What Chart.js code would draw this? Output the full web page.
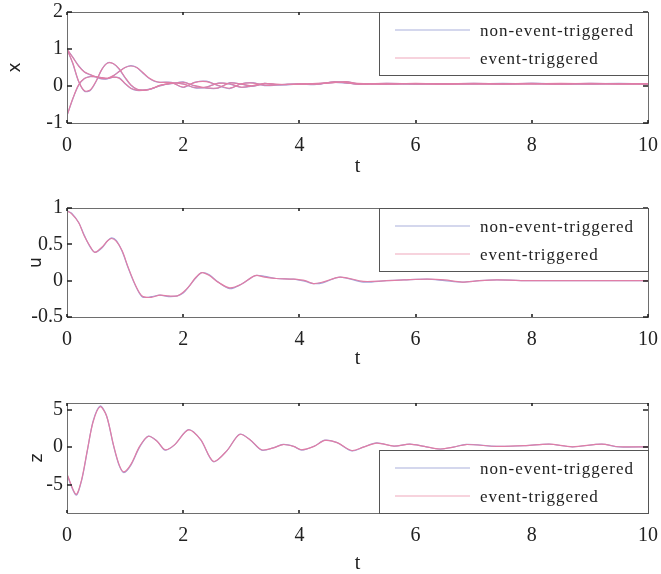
<!DOCTYPE html>
<html>
<head>
<meta charset="utf-8">
<script src="https://cdn.jsdelivr.net/npm/chart.js@4.4.1/dist/chart.umd.min.js"></script>
<style>
  html, body { margin: 0; padding: 0; background: #fff; }
  .plot { position: relative; width: 661px; }
  canvas { display: block; }
</style>
</head>
<body>
<div class="plot" style="height:190px"><canvas id="plotX"></canvas></div>
<div class="plot" style="height:190px"><canvas id="plotU"></canvas></div>
<div class="plot" style="height:194px"><canvas id="plotZ"></canvas></div>
<script>
// time grids
const tX = [0,0.1,0.2,0.3,0.4,0.5,0.6,0.7,0.8,0.9,1.0,1.1,1.2,1.3,1.4,1.5,1.6,1.8,2.0,2.2,2.4,2.6,2.8,3.0,3.2,3.4,3.6,3.8,4.0,4.3,4.6,4.8,5.0,5.5,6.0,6.5,7.0,7.5,8.0,8.5,9.0,9.5,10];
const tU = [0,0.08,0.2,0.3,0.4,0.48,0.6,0.7,0.77,0.85,0.95,1.05,1.15,1.25,1.31,1.45,1.6,1.75,1.9,2.0,2.1,2.2,2.32,2.45,2.6,2.8,3.0,3.24,3.4,3.6,3.9,4.1,4.24,4.4,4.7,5.1,5.5,5.8,6.2,6.5,6.8,7.1,7.4,8,9,10];
const tZ = [0,0.155,0.25,0.35,0.45,0.57,0.68,0.8,0.9,0.98,1.1,1.25,1.4,1.55,1.69,1.85,2.09,2.3,2.52,2.75,2.97,3.15,3.35,3.55,3.72,3.9,4.04,4.25,4.44,4.65,4.9,5.1,5.33,5.63,5.9,6.15,6.42,6.65,6.87,7.4,7.9,8.3,8.7,9.2,9.5,10];

// x states, non-event-triggered
const x1 = [1.0,0.6,0.12,-0.14,-0.12,0.12,0.45,0.63,0.6,0.45,0.22,0.02,-0.09,-0.11,-0.09,-0.05,0.0,0.08,0.06,-0.05,-0.03,0.08,0.05,-0.04,0.0,0.07,0.03,0.04,0.05,0.06,0.1,0.12,0.06,0.05,0.06,0.05,0.06,0.05,0.07,0.06,0.05,0.06,0.06];
const x2 = [1.0,0.78,0.55,0.38,0.3,0.24,0.19,0.2,0.28,0.4,0.5,0.55,0.5,0.36,0.22,0.13,0.1,0.1,-0.04,0.1,0.13,0.01,-0.07,0.06,0.09,0.01,0.02,0.05,0.06,0.05,0.1,0.08,0.05,0.06,0.05,0.06,0.07,0.06,0.07,0.06,0.06,0.07,0.06];
const x3 = [-0.8,-0.35,0.02,0.2,0.26,0.25,0.22,0.2,0.24,0.22,0.06,-0.07,-0.12,-0.12,-0.1,-0.05,0.02,0.06,0.11,0.0,-0.06,-0.06,0.09,0.05,-0.01,0.06,0.04,0.03,0.05,0.04,0.12,0.09,0.05,0.07,0.06,0.05,0.06,0.07,0.06,0.05,0.07,0.06,0.06];
// x states, event-triggered
const x1e = [1.0,0.62,0.13,-0.13,-0.11,0.13,0.45,0.62,0.6,0.46,0.23,0.03,-0.08,-0.11,-0.1,-0.05,0.01,0.08,0.05,-0.04,-0.03,0.07,0.06,-0.03,0.01,0.07,0.04,0.04,0.05,0.07,0.09,0.12,0.07,0.05,0.07,0.05,0.06,0.06,0.07,0.05,0.06,0.06,0.06];
const x2e = [1.0,0.77,0.54,0.38,0.31,0.25,0.2,0.21,0.28,0.39,0.5,0.54,0.5,0.37,0.23,0.14,0.1,0.09,-0.03,0.1,0.12,0.02,-0.06,0.06,0.08,0.02,0.03,0.05,0.06,0.06,0.1,0.09,0.05,0.06,0.06,0.06,0.07,0.06,0.06,0.07,0.06,0.06,0.06];
const x3e = [-0.8,-0.34,0.03,0.2,0.25,0.25,0.23,0.21,0.24,0.21,0.07,-0.06,-0.11,-0.12,-0.1,-0.04,0.02,0.07,0.1,0.01,-0.05,-0.05,0.08,0.05,0.0,0.06,0.05,0.04,0.05,0.05,0.11,0.09,0.06,0.07,0.06,0.06,0.06,0.06,0.06,0.06,0.07,0.06,0.06];

// control input u
const uNon = [0.96,0.93,0.8,0.62,0.46,0.39,0.45,0.55,0.59,0.55,0.4,0.18,-0.02,-0.18,-0.23,-0.22,-0.2,-0.22,-0.21,-0.17,-0.08,0.02,0.11,0.08,-0.02,-0.11,-0.05,0.07,0.06,0.03,0.02,-0.01,-0.04,-0.03,0.05,-0.02,0.0,0.01,0.02,0.0,-0.02,0.0,0.01,0.0,0.0,0.0];
const uEv = [0.96,0.92,0.8,0.61,0.47,0.39,0.46,0.55,0.58,0.54,0.41,0.19,-0.01,-0.17,-0.22,-0.23,-0.2,-0.21,-0.21,-0.16,-0.08,0.03,0.11,0.07,-0.02,-0.1,-0.05,0.07,0.05,0.03,0.02,0.0,-0.04,-0.02,0.05,-0.01,0.0,0.01,0.02,0.01,-0.02,0.0,0.01,0.0,0.0,0.0];

// z
const zNon = [-3.7,-6.4,-4.5,-0.5,3.5,5.5,4.2,0.2,-2.5,-3.4,-2.4,0.0,1.47,0.8,-0.4,0.3,2.35,1.0,-1.95,-0.5,1.73,1.0,-0.4,-0.1,0.36,0.1,-0.4,0.1,0.93,0.6,-0.5,0.0,0.58,0.13,0.4,0.1,-0.27,0.0,0.36,0.1,0.2,0.4,0.04,0.4,0.04,0.04];
const zEv = [-3.6,-6.3,-4.4,-0.4,3.4,5.4,4.2,0.3,-2.4,-3.3,-2.3,0.1,1.45,0.8,-0.35,0.3,2.3,1.0,-1.9,-0.5,1.7,1.0,-0.35,-0.1,0.35,0.1,-0.35,0.1,0.9,0.6,-0.45,0.0,0.55,0.15,0.4,0.1,-0.25,0.0,0.35,0.1,0.2,0.4,0.05,0.4,0.05,0.05];

const tTicks = [0,2,4,6,8,10];
const legendLabels = ["non-event-triggered", "event-triggered"];

const colNon = "#a3a3d9";
const colEv = "#e07ea6";
const legNon = "#aab0dc";
const legEv = "#f0a8bc";

function pts(t, v) {
  return t.map((tt, i) => ({ x: tt, y: v[i] }));
}

function line(data, color) {
  return {
    data: data,
    borderColor: color,
    borderWidth: 1.2,
    pointRadius: 0,
    tension: 0.3,
    fill: false
  };
}

// matlab style box, inner tick marks and legend box
const boxPlugin = {
  id: "matlabBox",
  afterDatasetsDraw(chart, args, opts) {
    const ctx = chart.ctx;
    const a = chart.chartArea;
    const sx = chart.scales.x, sy = chart.scales.y;
    ctx.save();
    ctx.strokeStyle = "#6e6e6e";
    ctx.lineWidth = 1;
    ctx.strokeRect(a.left + 0.5, a.top + 0.5, a.right - a.left, a.bottom - a.top);

    ctx.strokeStyle = "#222";
    ctx.lineWidth = 1.6;
    ctx.beginPath();
    sx.ticks.forEach(t => {
      const px = Math.round(sx.getPixelForValue(t.value));
      ctx.moveTo(px, a.bottom); ctx.lineTo(px, a.bottom - 3);
      ctx.moveTo(px, a.top); ctx.lineTo(px, a.top + 3);
    });
    sy.ticks.forEach(t => {
      const py = Math.round(sy.getPixelForValue(t.value));
      ctx.moveTo(a.left, py); ctx.lineTo(a.left + 5, py);
      ctx.moveTo(a.right, py); ctx.lineTo(a.right - 5, py);
    });
    ctx.stroke();

    // legend
    const w = 269, h = 63;
    const bx = a.right - w;
    const by = opts.pos === "bottom" ? a.bottom - h : a.top;
    ctx.fillStyle = "#fff";
    ctx.fillRect(bx, by, w, h);
    ctx.strokeStyle = "#555";
    ctx.lineWidth = 1;
    ctx.strokeRect(bx + 0.5, by + 0.5, w, h);

    const rows = [[legNon, 18], [legEv, 46]];
    ctx.font = "17px 'Liberation Serif'";
    ctx.textBaseline = "middle";
    ctx.fillStyle = "#222";
    try { ctx.letterSpacing = "1px"; } catch (e) {}
    rows.forEach((r, i) => {
      ctx.strokeStyle = r[0];
      ctx.lineWidth = 1.2;
      ctx.beginPath();
      ctx.moveTo(bx + 16, by + r[1]);
      ctx.lineTo(bx + 91, by + r[1]);
      ctx.stroke();
      ctx.fillText(legendLabels[i], bx + 101, by + r[1] + 2);
    });
    ctx.restore();
  }
};

function makePlot(id, cfg) {
  const datasets = cfg.ev.map(d => line(d, colEv)).concat(cfg.non.map(d => line(d, colNon)));
  return new Chart(document.getElementById(id), {
    type: "line",
    data: { datasets: datasets },
    options: {
      responsive: true,
      maintainAspectRatio: false,
      animation: false,
      layout: { padding: { top: cfg.top, right: 13, left: 0, bottom: 0 } },
      plugins: {
        legend: { display: false },
        tooltip: { enabled: false },
        matlabBox: { pos: cfg.legendPos }
      },
      scales: {
        x: {
          type: "linear",
          min: 0, max: 10,
          afterBuildTicks: s => { s.ticks = tTicks.map(v => ({ value: v })); },
          afterFit: s => { s.height = cfg.xh; s.paddingLeft = 0; s.paddingRight = 0; },
          grid: { display: false, drawTicks: false },
          border: { display: false },
          ticks: {
            padding: 11,
            color: "#222",
            maxRotation: 0,
            font: { family: "'Liberation Serif'", size: 20 },
            callback: v => String(v)
          },
          title: {
            display: true,
            text: "t",
            color: "#222",
            padding: { top: 0, bottom: cfg.tPad },
            font: { family: "'Liberation Serif'", size: 20, lineHeight: 1 }
          }
        },
        y: {
          min: cfg.ymin, max: cfg.ymax,
          afterBuildTicks: s => { s.ticks = cfg.yticks.map(v => ({ value: v })); },
          afterFit: s => { s.width = 67; s.paddingTop = 0; s.paddingBottom = 0; },
          grid: { display: false, drawTicks: false },
          border: { display: false },
          ticks: {
            padding: 4,
            color: "#222",
            font: { family: "'Liberation Serif'", size: 20 },
            callback: v => String(v)
          },
          title: {
            display: true,
            text: cfg.name,
            color: "#222",
            padding: { top: cfg.namePad, bottom: 0 },
            font: { family: "'DejaVu Sans'", size: 17, lineHeight: 1 }
          }
        }
      }
    },
    plugins: [boxPlugin]
  });
}

makePlot("plotX", {
  non: [pts(tX, x1), pts(tX, x2), pts(tX, x3)],
  ev: [pts(tX, x1e), pts(tX, x2e), pts(tX, x3e)],
  top: 12, xh: 67, tPad: 13,
  ymin: -1, ymax: 2, yticks: [-1, 0, 1, 2],
  name: "x", namePad: 7, legendPos: "top"
});

makePlot("plotU", {
  non: [pts(tU, uNon)],
  ev: [pts(tU, uEv)],
  top: 18, xh: 63, tPad: 11,
  ymin: -0.5, ymax: 1, yticks: [-0.5, 0, 0.5, 1],
  name: "u", namePad: 28, legendPos: "top"
});

makePlot("plotZ", {
  non: [pts(tZ, zNon)],
  ev: [pts(tZ, zEv)],
  top: 23, xh: 61, tPad: 0,
  ymin: -8.8, ymax: 5.9, yticks: [-5, 0, 5],
  name: "z", namePad: 29, legendPos: "bottom"
});
</script>
</body>
</html>
